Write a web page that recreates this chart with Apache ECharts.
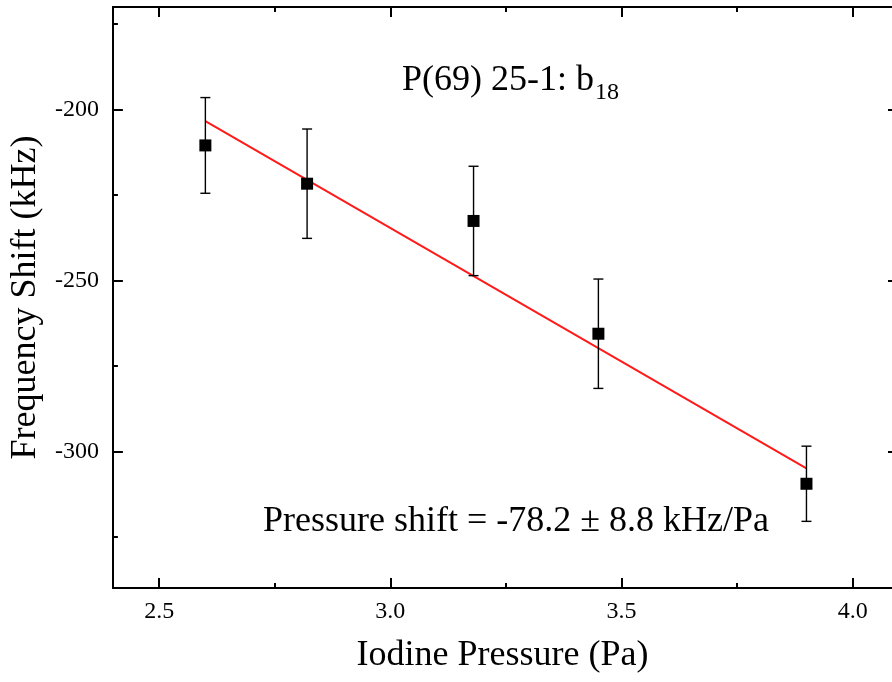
<!DOCTYPE html>
<html>
<head>
<meta charset="utf-8">
<script src="https://cdn.jsdelivr.net/npm/echarts@6/dist/echarts.min.js"></script>
<style>
html,body{margin:0;padding:0;background:#fff;}
#chart{width:892px;height:682px;}
</style>
</head>
<body>
<div id="chart"></div>
<script>
// Data
const pressure = [2.60, 2.82, 3.18, 3.45, 3.90];
const shift = [-210.5, -221.7, -232.6, -265.6, -309.5];
const errors = [14, 16, 16, 16, 11];
const fitX = [2.60, 3.90];
const fitY = [-203.4, -305.0];
const xMajorTicks = [2.5, 3.0, 3.5, 4.0];
const xMinorTicks = [2.75, 3.25, 3.75];
const yMajorTicks = [-300, -250, -200];
const yMinorTicks = [-325, -275, -225, -175];
const titleMain = 'P(69) 25-1: b';
const titleSub = '18';
const fitText = 'Pressure shift = -78.2 ± 8.8 kHz/Pa';
const xTitle = 'Iodine Pressure (Pa)';
const yTitle = 'Frequency Shift (kHz)';

const FONT = "'Liberation Serif','Times New Roman',serif";
const chart = echarts.init(document.getElementById('chart'), null, {renderer: 'canvas'});

const xRange = {min: 2.4, max: 4.085};
const yRange = {min: -340, max: -170};

function xAx(pos, ticks, len, showLine, showLabel, extra) {
  return Object.assign({
    type: 'value', position: pos, min: xRange.min, max: xRange.max,
    axisLine: {show: showLine, onZero: false, lineStyle: {color: '#000', width: 2}},
    axisTick: {show: true, inside: true, length: len, customValues: ticks, lineStyle: {color: '#000', width: 2}},
    axisLabel: showLabel ? {show: true, customValues: ticks, margin: 12, fontSize: 24, fontFamily: FONT, color: '#000',
      formatter: v => v.toFixed(1)} : {show: false},
    splitLine: {show: false}
  }, extra || {});
}
function yAx(pos, ticks, len, showLine, showLabel, extra) {
  return Object.assign({
    type: 'value', position: pos, min: yRange.min, max: yRange.max,
    axisLine: {show: showLine, onZero: false, lineStyle: {color: '#000', width: 2}},
    axisTick: {show: true, inside: true, length: len, customValues: ticks, lineStyle: {color: '#000', width: 2}},
    axisLabel: showLabel ? {show: true, customValues: ticks, margin: 14, fontSize: 24, fontFamily: FONT, color: '#000',
      formatter: v => String(v)} : {show: false},
    splitLine: {show: false}
  }, extra || {});
}

const scatterData = pressure.map((x, i) => [x, shift[i]]);
const errData = pressure.map((x, i) => [x, shift[i] - errors[i], shift[i] + errors[i]]);
const fitData = fitX.map((x, i) => [x, fitY[i]]);

const option = {
  backgroundColor: '#fff',
  animation: false,
  grid: {left: 112, top: 7, right: 0, height: 581, containLabel: false},
  xAxis: [
    xAx('bottom', xMajorTicks, 10, true, true, {
      name: xTitle, nameLocation: 'middle', nameGap: 50,
      nameTextStyle: {fontSize: 36, fontFamily: FONT, color: '#000'}
    }),
    xAx('bottom', xMinorTicks, 5, false, false),
    xAx('top', xMajorTicks, 10, true, false),
    xAx('top', xMinorTicks, 5, false, false)
  ],
  yAxis: [
    yAx('left', yMajorTicks, 10, true, true, {
      name: yTitle, nameLocation: 'middle', nameGap: 68,
      nameTextStyle: {fontSize: 36, fontFamily: FONT, color: '#000'}
    }),
    yAx('left', yMinorTicks, 5, false, false),
    yAx('right', yMajorTicks, 4, false, false)
  ],
  series: [
    {
      type: 'line', xAxisIndex: 0, yAxisIndex: 0, data: fitData,
      symbol: 'none', lineStyle: {color: '#ff1a1a', width: 2}, z: 2
    },
    {
      type: 'custom', xAxisIndex: 0, yAxisIndex: 0, data: errData, z: 3,
      renderItem: function (params, api) {
        const x = api.value(0);
        const lo = api.coord([x, api.value(1)]);
        const hi = api.coord([x, api.value(2)]);
        const hw = 5;
        const st = {stroke: '#000', lineWidth: 1.4};
        return {
          type: 'group',
          children: [
            {type: 'line', shape: {x1: lo[0], y1: lo[1], x2: hi[0], y2: hi[1]}, style: st},
            {type: 'line', shape: {x1: lo[0] - hw, y1: lo[1], x2: lo[0] + hw, y2: lo[1]}, style: st},
            {type: 'line', shape: {x1: hi[0] - hw, y1: hi[1], x2: hi[0] + hw, y2: hi[1]}, style: st}
          ]
        };
      }
    },
    {
      type: 'scatter', xAxisIndex: 0, yAxisIndex: 0, data: scatterData,
      symbol: 'rect', symbolSize: 12, itemStyle: {color: '#000', opacity: 1}, z: 4
    }
  ],
  graphic: [
    {
      type: 'text', left: 402, top: 63, z: 10,
      style: {
        text: '{a|' + titleMain + '}{s|' + titleSub + '}',
        rich: {
          a: {fontSize: 36, fontFamily: FONT, fill: '#000'},
          s: {fontSize: 24, fontFamily: FONT, fill: '#000', padding: [24, 0, 0, 1]}
        }
      }
    },
    {
      type: 'text', left: 263, top: 504, z: 10,
      style: {text: fitText, fontSize: 36, fontFamily: FONT, fill: '#000'}
    }
  ]
};
chart.setOption(option);
</script>
</body>
</html>
